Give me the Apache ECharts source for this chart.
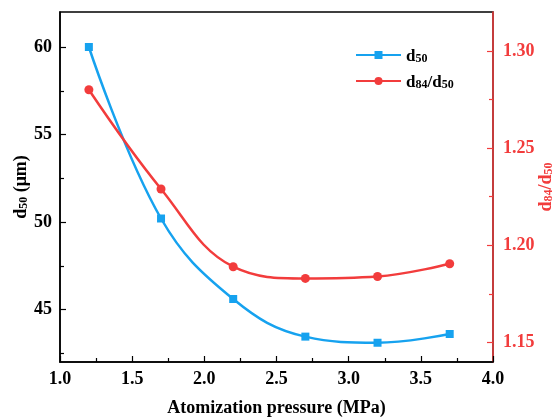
<!DOCTYPE html>
<html>
<head>
<meta charset="utf-8">
<script src="https://cdn.jsdelivr.net/npm/echarts@6/dist/echarts.min.js"></script>
<style>
  html, body { margin: 0; padding: 0; background: #fff; }
  #chart { width: 553px; height: 417px; }
</style>
</head>
<body>
<div id="chart"></div>
<script>
// atomization pressure (MPa)
var pressure = [1.2, 1.7, 2.2, 2.7, 3.2, 3.7];
// d50 in micrometres
var d50 = [60.0, 50.2, 45.6, 43.45, 43.1, 43.6];
// d84/d50 ratio
var ratio = [1.280, 1.229, 1.189, 1.183, 1.184, 1.1905];

var leftLabels = [45, 50, 55, 60];
var leftMinor = [42.5, 47.5, 52.5, 57.5];
var rightLabels = [1.15, 1.20, 1.25, 1.30];
var rightMinor = [1.175, 1.225, 1.275];

var BLUE = '#16a2ef';
var RED = '#f23c3c';
var FONT = '"Liberation Serif", "DejaVu Serif", serif';

function sub(color, size) {
  return {
    t: { fontFamily: FONT, fontWeight: 'bold', fontSize: size, color: color, verticalAlign: 'bottom', lineHeight: 20 },
    s: { fontFamily: FONT, fontWeight: 'bold', fontSize: Math.round(size * 0.68), color: color, verticalAlign: 'bottom', lineHeight: 8 }
  };
}

var chart = echarts.init(document.getElementById('chart'));

var baseY = {
  type: 'value',
  splitLine: { show: false },
  axisLine: { show: true, lineStyle: { width: 1.5 } }
};

chart.setOption({
  animation: false,
  backgroundColor: '#fff',
  grid: { left: 60, right: 60, top: 12, bottom: 55, outerBoundsMode: 'none', containLabel: false,
    show: true, borderColor: '#000', borderWidth: 1.5 },
  legend: {
    left: 350, top: 43, orient: 'vertical', itemWidth: 45, itemHeight: 10, itemGap: 9,
    data: [
      { name: 'd50', textStyle: { rich: sub('#000', 17) } },
      { name: 'd84/d50', textStyle: { rich: sub('#000', 17) } }
    ],
    formatter: function (n) {
      return n === 'd50' ? '{t|d}{s|50}' : '{t|d}{s|84}{t|/d}{s|50}';
    }
  },
  xAxis: {
    type: 'value', min: 1.0, max: 4.0, interval: 0.5,
    name: 'Atomization pressure (MPa)', nameLocation: 'middle', nameGap: 37, nameMoveOverlap: false,
    nameTextStyle: { fontFamily: FONT, fontWeight: 'bold', fontSize: 18, color: '#000' },
    splitLine: { show: false },
    axisLine: { lineStyle: { color: '#000', width: 1.5 } },
    axisTick: { inside: true, length: 6, lineStyle: { color: '#000', width: 1.2 } },
    minorTick: { show: true, splitNumber: 2, length: 4, lineStyle: { color: '#000', width: 1.2 } },
    axisLabel: { margin: 8, fontFamily: FONT, fontWeight: 'bold', fontSize: 18, color: '#000',
      formatter: function (v) { return v.toFixed(1); } }
  },
  yAxis: [
    Object.assign({}, baseY, {
      position: 'left', min: 42, max: 62,
      name: '{t|d}{s|50}{t| (μm)}', nameLocation: 'middle', nameGap: 30, nameRotate: 90, nameMoveOverlap: false,
      nameTextStyle: { rich: sub('#000', 18) },
      axisLine: { show: true, lineStyle: { color: '#000', width: 1.5 } },
      axisTick: { inside: true, length: 6, customValues: leftLabels, lineStyle: { color: '#000', width: 1.2 } },
      axisLabel: { margin: 8, customValues: leftLabels, fontFamily: FONT, fontWeight: 'bold', fontSize: 18, color: '#000' }
    }),
    Object.assign({}, baseY, {
      position: 'right', min: 1.14, max: 1.32,
      name: '{t|d}{s|84}{t|/d}{s|50}', nameLocation: 'middle', nameGap: 42, nameRotate: 90, nameMoveOverlap: false,
      nameTextStyle: { rich: sub(RED, 18) },
      axisLine: { show: true, lineStyle: { color: RED, width: 1.5 } },
      axisTick: { inside: true, length: 6, customValues: rightLabels, lineStyle: { color: RED, width: 1.2 } },
      axisLabel: { margin: 10, customValues: rightLabels, fontFamily: FONT, fontWeight: 'bold', fontSize: 18, color: RED,
        formatter: function (v) { return v.toFixed(2); } }
    }),
    Object.assign({}, baseY, {
      position: 'left', min: 42, max: 62,
      axisLine: { show: false },
      axisTick: { inside: true, length: 4, customValues: leftMinor, lineStyle: { color: '#000', width: 1.2 } },
      axisLabel: { show: false }
    }),
    Object.assign({}, baseY, {
      position: 'right', min: 1.14, max: 1.32,
      axisLine: { show: false },
      axisTick: { inside: true, length: 4, customValues: rightMinor, lineStyle: { color: RED, width: 1.2 } },
      axisLabel: { show: false }
    })
  ],
  series: [
    {
      name: 'd50', type: 'line', yAxisIndex: 0, smooth: 0.4,
      data: pressure.map(function (p, i) { return [p, d50[i]]; }),
      symbol: 'rect', symbolSize: 8,
      lineStyle: { color: BLUE, width: 2.5 }, itemStyle: { color: BLUE }
    },
    {
      name: 'd84/d50', type: 'line', yAxisIndex: 1, smooth: 0.4,
      data: pressure.map(function (p, i) { return [p, ratio[i]]; }),
      symbol: 'circle', symbolSize: 9,
      lineStyle: { color: RED, width: 2.5 }, itemStyle: { color: RED }
    }
  ]
});
</script>
</body>
</html>
